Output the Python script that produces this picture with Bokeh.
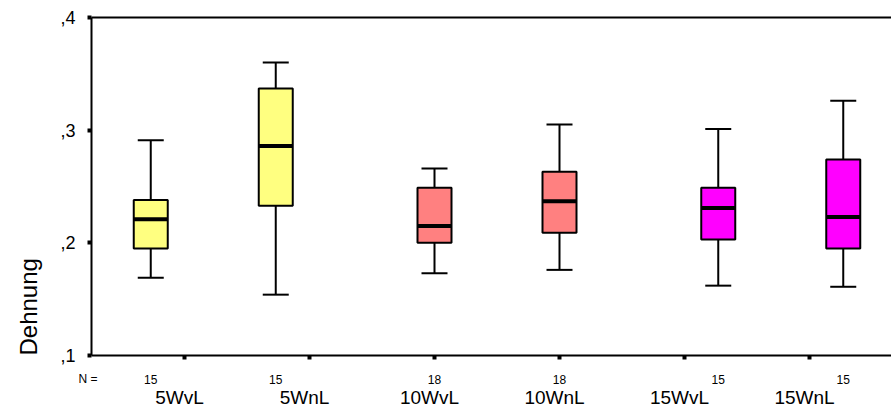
import numpy as np
from bokeh.plotting import figure
from bokeh.models import Range1d, FixedTicker, LinearAxis, ColumnDataSource
from bokeh.core.properties import value
from bokeh.embed import file_html
from bokeh.resources import INLINE

# Dehnung je Gruppe: Whisker, Quartile und Median
categories = ["5WvL", "5WnL", "10WvL", "10WnL", "15WvL", "15WnL"]
n_cases = [15, 15, 18, 18, 15, 15]
whisker_low = [0.169, 0.154, 0.173, 0.176, 0.162, 0.161]
quartile_1 = [0.195, 0.233, 0.200, 0.209, 0.203, 0.195]
medians = [0.221, 0.286, 0.215, 0.237, 0.231, 0.223]
quartile_3 = [0.238, 0.337, 0.249, 0.263, 0.249, 0.274]
whisker_high = [0.291, 0.360, 0.266, 0.305, 0.301, 0.326]
y_ticks = [0.1, 0.2, 0.3, 0.4]
y_tick_labels = [",1", ",2", ",3", ",4"]

# layout of the boxes relative to their category ticks
box_shift = [-0.27, -0.27, 0.0, 0.0, 0.27, 0.27]
box_colors = ["#FFFF80", "#FFFF80", "#FF8080", "#FF8080", "#FF00FF", "#FF00FF"]
FONT = "Liberation Sans"

ticks = np.arange(1, len(categories) + 1, dtype=float)
pos = ticks + np.array(box_shift)
label_pos = ticks - 0.04
box_w = 0.272
cap_w = 0.208

# plotting area of the axes (data coordinates)
X0, X1 = 0.256, 6.656
Y0, Y1 = 0.1, 0.4

src = ColumnDataSource(dict(
    pos=pos, n=[str(v) for v in n_cases],
    low=whisker_low, q1=quartile_1, med=medians, q3=quartile_3, high=whisker_high,
    color=box_colors,
    box_l=pos - box_w / 2, box_r=pos + box_w / 2,
    cap_l=pos - cap_w / 2, cap_r=pos + cap_w / 2,
    n_y=[0.0790] * len(categories),
))

# the frame fills the whole canvas; axes are pinned with fixed_location
p = figure(width=891, height=412, output_backend="svg", toolbar_location=None,
           x_range=Range1d(-0.472, 6.656), y_range=Range1d(0.04941, 0.41509),
           min_border=0, outline_line_color=None, x_axis_location=None,
           y_axis_location=None,
           background_fill_color="white", border_fill_color="white")
p.xgrid.visible = False
p.ygrid.visible = False

ya = LinearAxis(fixed_location=X0, bounds=(Y0, Y1),
                ticker=FixedTicker(ticks=y_ticks),
                major_label_overrides={t: l for t, l in zip(y_ticks, y_tick_labels)},
                major_label_text_font=FONT, major_label_text_font_size="18px",
                major_label_text_color="black", major_label_standoff=12,
                axis_line_width=2, axis_line_color="black",
                major_tick_in=0, major_tick_out=4, major_tick_line_width=4,
                major_tick_line_color="black", minor_tick_line_color=None)
p.add_layout(ya, "left")

# x axis line with square tick marks
xa = LinearAxis(fixed_location=Y0, bounds=(X0, X1),
                ticker=FixedTicker(ticks=list(ticks)),
                major_label_overrides={float(t): "" for t in ticks},
                axis_line_width=2, axis_line_color="black",
                major_tick_in=0, major_tick_out=4, major_tick_line_width=4,
                major_tick_line_color="black", minor_tick_line_color=None)
p.add_layout(xa, "below")

# group names
xl = LinearAxis(fixed_location=Y0, ticker=FixedTicker(ticks=list(label_pos)),
                major_label_overrides={float(t): c for t, c in zip(label_pos, categories)},
                major_label_text_font=FONT, major_label_text_font_size="19px",
                major_label_text_color="black", major_label_standoff=31,
                axis_line_color=None, major_tick_in=0, major_tick_out=0,
                major_tick_line_color=None, minor_tick_line_color=None)
p.add_layout(xl, "below")

# top frame line
top = LinearAxis(fixed_location=Y1, bounds=(X0, X1), ticker=FixedTicker(ticks=[]),
                 axis_line_width=2, axis_line_color="black",
                 major_tick_line_color=None, minor_tick_line_color=None)
p.add_layout(top, "above")

# whiskers and caps
p.segment(x0="pos", y0="q3", x1="pos", y1="high", source=src,
          line_color="black", line_width=2)
p.segment(x0="pos", y0="q1", x1="pos", y1="low", source=src,
          line_color="black", line_width=2)
p.segment(x0="cap_l", y0="high", x1="cap_r", y1="high", source=src,
          line_color="black", line_width=2)
p.segment(x0="cap_l", y0="low", x1="cap_r", y1="low", source=src,
          line_color="black", line_width=2)

# boxes and medians
p.vbar(x="pos", width=box_w, bottom="q1", top="q3", source=src,
       fill_color="color", line_color="black", line_width=2)
p.segment(x0="box_l", y0="med", x1="box_r", y1="med", source=src,
          line_color="black", line_width=4)

# case counts under the boxes
p.text(x="pos", y="n_y", text="n", source=src, text_align="center",
       text_baseline="alphabetic", text_font=value(FONT),
       text_font_size="12px", text_color="black")
p.text(x=[0.152], y=[0.0790], text=["N ="], text_align="left",
       text_baseline="alphabetic", text_font=value(FONT),
       text_font_size="12px", text_color="black")

# y axis title
p.text(x=[-0.248], y=[Y0], text=["Dehnung"], angle=np.pi / 2,
       text_align="left", text_baseline="alphabetic",
       text_font=value(FONT), text_font_size="24px", text_color="black")

open("out.html", "w").write(file_html(p, INLINE))
